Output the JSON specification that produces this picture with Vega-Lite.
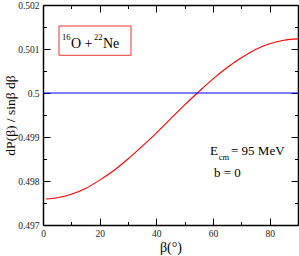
{
  "$schema": "https://vega.github.io/schema/vega-lite/v6.json",
  "width": 255,
  "height": 220,
  "autosize": {"type": "none"},
  "padding": {"left": 43, "top": 5, "right": 1, "bottom": 31},
  "background": "white",
  "config": {
    "view": {"stroke": null},
    "font": "Liberation Serif",
    "axis": {
      "domainColor": "black",
      "domainWidth": 1.5,
      "tickColor": "black",
      "tickWidth": 1,
      "grid": false,
      "labelFont": "Liberation Serif",
      "labelFontSize": 9.5,
      "labelColor": "#222",
      "titleFont": "Liberation Serif",
      "titleFontWeight": "normal",
      "titleColor": "black"
    }
  },
  "datasets": {
    "curve": [
      {"beta": 1, "v": 0.49759},
      {"beta": 5, "v": 0.49762},
      {"beta": 10, "v": 0.49770},
      {"beta": 15, "v": 0.49783},
      {"beta": 20, "v": 0.49802},
      {"beta": 25, "v": 0.49824},
      {"beta": 30, "v": 0.49850},
      {"beta": 35, "v": 0.49879},
      {"beta": 40, "v": 0.49909},
      {"beta": 45, "v": 0.49941},
      {"beta": 50, "v": 0.49973},
      {"beta": 55, "v": 0.50003},
      {"beta": 60, "v": 0.50032},
      {"beta": 65, "v": 0.50058},
      {"beta": 70, "v": 0.50080},
      {"beta": 75, "v": 0.50099},
      {"beta": 80, "v": 0.50112},
      {"beta": 85, "v": 0.50120},
      {"beta": 90, "v": 0.50123}
    ],
    "flat": [
      {"beta": 0, "v": 0.5},
      {"beta": 90, "v": 0.5}
    ],
    "one": [{"k": 1}]
  },
  "resolve": {"axis": {"x": "independent", "y": "independent"}},
  "layer": [
    {
      "data": {"name": "curve"},
      "mark": {"type": "line", "color": "#ff0000", "strokeWidth": 1.1, "interpolate": "monotone"},
      "encoding": {
        "x": {
          "field": "beta", "type": "quantitative",
          "scale": {"domain": [0, 90], "nice": false, "zero": false},
          "axis": {
            "orient": "bottom",
            "title": "β(°)",
            "titleFontSize": 14,
            "titlePadding": -1,
            "values": [0, 10, 20, 30, 40, 50, 60, 70, 80, 90],
            "labelExpr": "datum.value % 20 == 0 && datum.value < 90 ? datum.label : ''",
            "tickSize": {"condition": {"test": "datum.value % 20 != 0", "value": -3.5}, "value": -7},
            "labelPadding": 10,
            "labelFlush": false,
            "labelOverlap": false
          }
        },
        "y": {
          "field": "v", "type": "quantitative",
          "scale": {"domain": [0.497, 0.502], "nice": false, "zero": false},
          "axis": {
            "orient": "left",
            "title": "dP(β) / sinβ dβ",
            "titleFontSize": 13.5,
            "titlePadding": 0,
            "values": [0.497, 0.4975, 0.498, 0.4985, 0.499, 0.4995, 0.5, 0.5005, 0.501, 0.5015, 0.502],
            "labelExpr": "abs(round(datum.value * 2000)) % 2 == 1 ? '' : datum.value + ''",
            "tickSize": {"condition": {"test": "abs(round(datum.value * 2000)) % 2 == 1", "value": -3.5}, "value": -7},
            "labelPadding": 11,
            "labelFlush": false,
            "labelOverlap": false
          }
        }
      }
    },
    {
      "data": {"name": "flat"},
      "mark": {"type": "line", "color": "#0000ff", "strokeWidth": 1.1},
      "encoding": {
        "x": {
          "field": "beta", "type": "quantitative",
          "axis": {
            "orient": "top",
            "title": null,
            "labels": false,
            "values": [0, 10, 20, 30, 40, 50, 60, 70, 80, 90],
            "tickSize": {"condition": {"test": "datum.value % 20 != 0", "value": -3.5}, "value": -7}
          }
        },
        "y": {
          "field": "v", "type": "quantitative",
          "axis": {
            "orient": "right",
            "title": null,
            "labels": false,
            "values": [0.497, 0.4975, 0.498, 0.4985, 0.499, 0.4995, 0.5, 0.5005, 0.501, 0.5015, 0.502],
            "tickSize": {"condition": {"test": "abs(round(datum.value * 2000)) % 2 == 1", "value": -3.5}, "value": -7}
          }
        }
      }
    },
    {
      "data": {"name": "one"},
      "mark": {"type": "rect", "fill": "white", "stroke": "#ee3333", "strokeWidth": 1},
      "encoding": {
        "x": {"datum": 5.65, "type": "quantitative", "axis": null},
        "x2": {"datum": 31.06},
        "y": {"datum": 0.501523, "type": "quantitative", "axis": null},
        "y2": {"datum": 0.500857}
      }
    },
    {
      "data": {"name": "one"},
      "mark": {"type": "text", "align": "left", "baseline": "alphabetic", "fontSize": 8.5, "font": "Liberation Serif", "color": "black"},
      "encoding": {
        "x": {"datum": 6.71, "type": "quantitative", "axis": null},
        "y": {"datum": 0.501205, "type": "quantitative", "axis": null},
        "text": {"value": "16"}
      }
    },
    {
      "data": {"name": "one"},
      "mark": {"type": "text", "align": "left", "baseline": "alphabetic", "fontSize": 14, "font": "Liberation Serif", "color": "black"},
      "encoding": {
        "x": {"datum": 9.88, "type": "quantitative", "axis": null},
        "y": {"datum": 0.501034, "type": "quantitative", "axis": null},
        "text": {"value": "O +"}
      }
    },
    {
      "data": {"name": "one"},
      "mark": {"type": "text", "align": "left", "baseline": "alphabetic", "fontSize": 8.5, "font": "Liberation Serif", "color": "black"},
      "encoding": {
        "x": {"datum": 18.0, "type": "quantitative", "axis": null},
        "y": {"datum": 0.501205, "type": "quantitative", "axis": null},
        "text": {"value": "22"}
      }
    },
    {
      "data": {"name": "one"},
      "mark": {"type": "text", "align": "left", "baseline": "alphabetic", "fontSize": 14, "font": "Liberation Serif", "color": "black"},
      "encoding": {
        "x": {"datum": 21.18, "type": "quantitative", "axis": null},
        "y": {"datum": 0.501034, "type": "quantitative", "axis": null},
        "text": {"value": "Ne"}
      }
    },
    {
      "data": {"name": "one"},
      "mark": {"type": "text", "align": "left", "baseline": "alphabetic", "fontSize": 13, "font": "Liberation Serif", "color": "black"},
      "encoding": {
        "x": {"datum": 58.94, "type": "quantitative", "axis": null},
        "y": {"datum": 0.498591, "type": "quantitative", "axis": null},
        "text": {"value": "E"}
      }
    },
    {
      "data": {"name": "one"},
      "mark": {"type": "text", "align": "left", "baseline": "alphabetic", "fontSize": 8.5, "font": "Liberation Serif", "color": "black"},
      "encoding": {
        "x": {"datum": 62.0, "type": "quantitative", "axis": null},
        "y": {"datum": 0.498477, "type": "quantitative", "axis": null},
        "text": {"value": "cm"}
      }
    },
    {
      "data": {"name": "one"},
      "mark": {"type": "text", "align": "left", "baseline": "alphabetic", "fontSize": 13, "font": "Liberation Serif", "color": "black"},
      "encoding": {
        "x": {"datum": 66.35, "type": "quantitative", "axis": null},
        "y": {"datum": 0.498591, "type": "quantitative", "axis": null},
        "text": {"value": "= 95 MeV"}
      }
    },
    {
      "data": {"name": "one"},
      "mark": {"type": "text", "align": "left", "baseline": "alphabetic", "fontSize": 13, "font": "Liberation Serif", "color": "black"},
      "encoding": {
        "x": {"datum": 60.35, "type": "quantitative", "axis": null},
        "y": {"datum": 0.498098, "type": "quantitative", "axis": null},
        "text": {"value": "b = 0"}
      }
    }
  ]
}
